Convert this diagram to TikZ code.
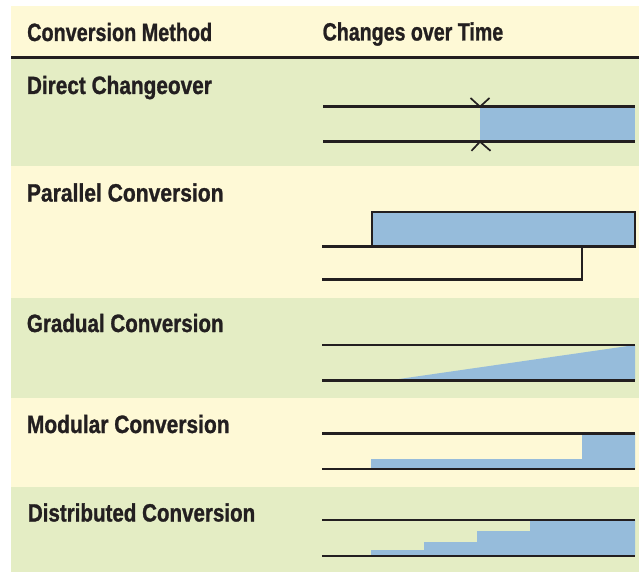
\documentclass[tikz,border=0pt]{standalone}
\usepackage{fontspec}
\usepackage{graphicx}
\setmainfont{Liberation Sans}[FakeBold=1.2]
\definecolor{bandyellow}{HTML}{FEF9D6}
\definecolor{bandgreen}{HTML}{E4EDC4}
\definecolor{fillblue}{HTML}{96BCDB}
\definecolor{inkdark}{HTML}{231F20}
\newcommand{\fitlabel}[2]{\resizebox{#1bp}{\height}{#2}}
\begin{document}
\begin{tikzpicture}[x=1bp,y=-1bp,
  label/.style={anchor=base west,inner sep=0pt,text=inkdark,font=\bfseries\fontsize{25bp}{27bp}\selectfont},
  track/.style={draw=inkdark,line width=2.4bp},
  xmark/.style={draw=inkdark,line width=1.7bp},
  newsys/.style={fill=fillblue,draw=none}]
\useasboundingbox (0,0) rectangle (639,572);
\fill[white] (0,0) rectangle (639,572);
% bands
\fill[bandyellow] (11,6) rectangle (639,57);
\fill[bandgreen] (11,57) rectangle (639,166.5);
\fill[bandyellow] (11,166.5) rectangle (639,297.5);
\fill[bandgreen] (11,297.5) rectangle (639,397.5);
\fill[bandyellow] (11,397.5) rectangle (639,487);
\fill[bandgreen] (11,487) rectangle (639,572);
\draw[inkdark,line width=2.5bp] (11,57.3) -- (639,57.3);
% header
\node[label] (hmethod) at (27,41) {\fitlabel{185}{Conversion Method}};
\node[label] (htime) at (322.5,40.5) {\fitlabel{180.5}{Changes over Time}};
% row labels
\node[label] (ldirect) at (26.7,94) {\fitlabel{185}{Direct Changeover}};
\node[label] (lparallel) at (26.7,201.5) {\fitlabel{196.7}{Parallel Conversion}};
\node[label] (lgradual) at (26.7,332) {\fitlabel{196.7}{Gradual Conversion}};
\node[label] (lmodular) at (26.7,433) {\fitlabel{202.7}{Modular Conversion}};
\node[label] (ldistributed) at (27.7,521.5) {\fitlabel{227.3}{Distributed Conversion}};
% Direct changeover
\fill[newsys] (480,106.7) rectangle (634.5,141.7);
\draw[track] (323,106.7) -- (634.5,106.7);
\draw[track] (323,141.7) -- (634.5,141.7);
\draw[xmark] (470.5,98) -- (480,106.7) -- (489.5,98);
\draw[xmark] (471.5,150.8) -- (480,141.7) -- (490.5,150.8);
% Parallel conversion
\draw[track,fill=fillblue] (372,212) rectangle (635,246.5);
\draw[track] (322,246.5) -- (372,246.5);
\draw[track] (322,279.5) -- (582,279.5) -- (582,246.5);
% Gradual conversion
\fill[newsys] (390,380.3) -- (635,345) -- (635,380.3) -- cycle;
\draw[track] (322,345) -- (635,345);
\draw[track] (322,380.3) -- (635,380.3);
% Modular conversion
\fill[newsys] (371,459) rectangle (582,469) (582,433.3) rectangle (635,469);
\draw[track] (322,433.3) -- (635,433.3);
\draw[track] (322,469) -- (635,469);
% Distributed conversion
\fill[newsys] (371,550) rectangle (424,555.7) (424,542) rectangle (477,555.7)
  (477,531) rectangle (530,555.7) (530,520) rectangle (635,555.7);
\draw[track] (322,520) -- (635,520);
\draw[track] (322,555.7) -- (635,555.7);
\end{tikzpicture}
\end{document}
